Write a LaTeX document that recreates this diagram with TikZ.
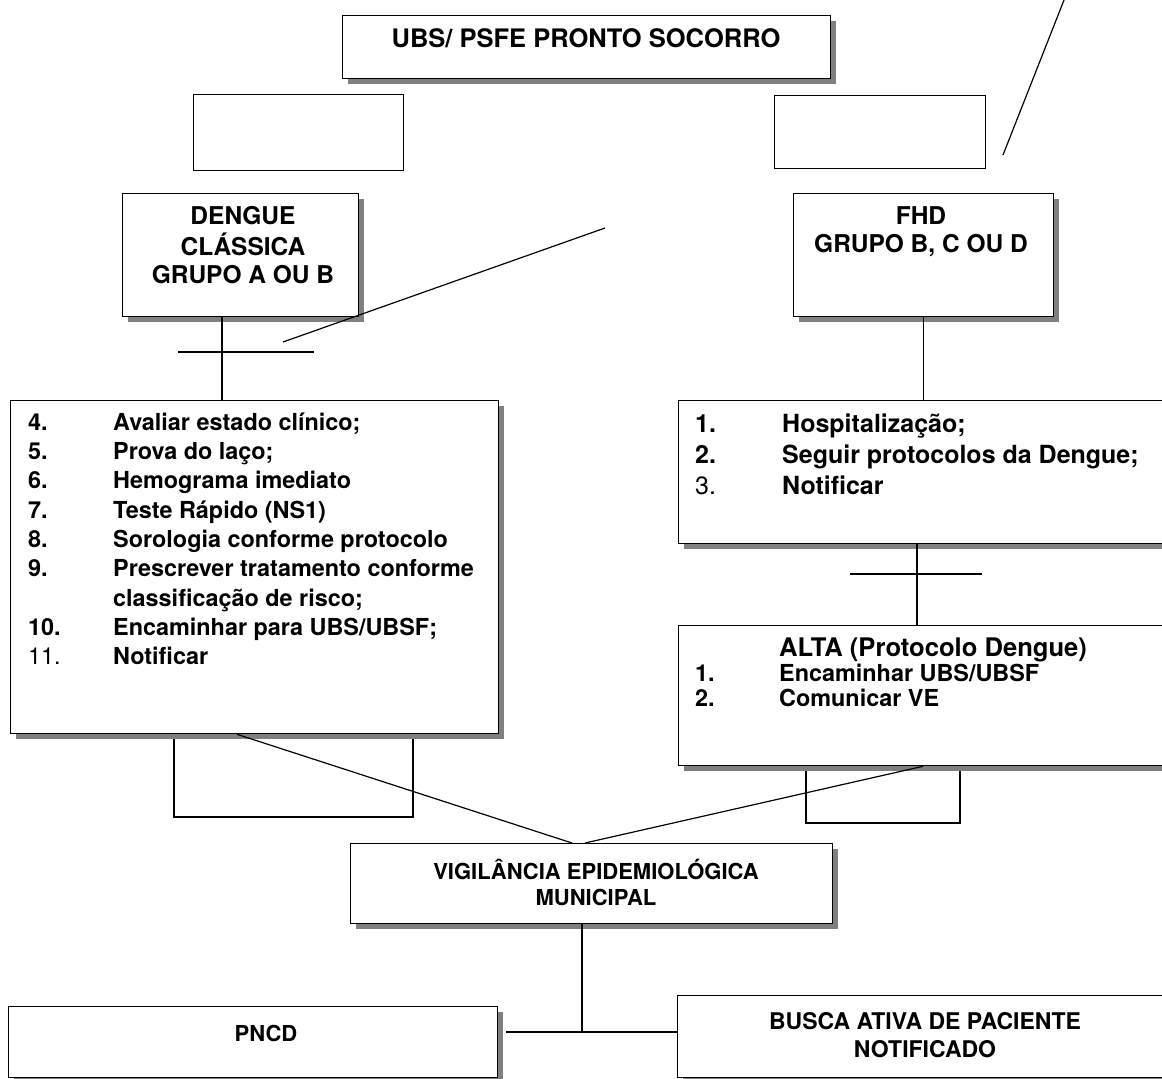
\documentclass[tikz,border=0pt]{standalone}
\usepackage{fontspec}
\setmainfont{TeX Gyre Heros}
\usetikzlibrary{shadows}

\newcommand{\fsz}[2]{\fontsize{#1}{#2}\selectfont}

\begin{document}
\begin{tikzpicture}[x=1pt,y=-1pt]

\tikzset{box/.style = {shape=rectangle,draw,line width=1.3pt,fill=white,inner sep=0pt,anchor=north west}}
\tikzset{sbox/.style = {box,drop shadow={shadow xshift=5.5pt,shadow yshift=-5.5pt,fill=black!50,opacity=1}}}
\tikzset{txt/.style = {inner sep=0pt,anchor=north,align=center}}
\tikzset{edge/.style = {line width=1.2pt}}
\tikzset{tick/.style = {line width=2.2pt}}

\useasboundingbox (0,0) rectangle (1162,1079);

% open boxes behind the lists
\draw[edge] (174,700) rectangle (413,817);
\draw[edge] (806,740) rectangle (960,823);

\node[sbox,minimum width=488pt,minimum height=63pt] (ubs) at (342,15) {};
\node[box,minimum width=210pt,minimum height=76pt] (vaziol) at (193,94) {};
\node[box,minimum width=211pt,minimum height=73pt] (vazior) at (774,95) {};
\node[sbox,minimum width=236pt,minimum height=123pt] (dengue) at (122,193) {};
\node[sbox,minimum width=260pt,minimum height=123pt] (fhd) at (793,193) {};
\node[sbox,minimum width=488pt,minimum height=333pt] (lista) at (10,400) {};
\node[sbox,minimum width=500pt,minimum height=143pt] (hosp) at (678,400) {};
\node[sbox,minimum width=500pt,minimum height=140pt] (alta) at (678,625) {};
\node[sbox,minimum width=482pt,minimum height=80pt] (vig) at (350,843) {};
\node[sbox,minimum width=489pt,minimum height=71pt] (pncd) at (8,1006) {};
\node[sbox,minimum width=500pt,minimum height=82pt] (busca) at (677,995) {};

%texts
\node[txt,anchor=base,font=\bfseries\fsz{25.5}{30}] (ubstxt) at (586,47) {UBS/ PSFE PRONTO SOCORRO};
\node[txt,font=\bfseries\fsz{24.5}{28.5}] (denguetxt) at (243,204) {\begin{tabular}{@{}c@{}}DENGUE\\CLÁSSICA\\GRUPO A OU B\end{tabular}};
\node[txt,font=\bfseries\fsz{24.5}{28.5}] (fhdtxt) at (921,204) {\begin{tabular}{@{}c@{}}FHD\\GRUPO B, C OU D\end{tabular}};
\node[txt,anchor=north west,font=\bfseries\fsz{23.4}{29.3}] (listatxt) at (28,409.5) {\begin{tabular}{@{}p{85pt}@{}l@{}}
4. & Avaliar estado clínico;\\
5. & Prova do laço;\\
6. & Hemograma imediato\\
7. & Teste Rápido (NS1)\\
8. & Sorologia conforme protocolo\\
9. & Prescrever tratamento conforme\\
   & classificação de risco;\\
10. & Encaminhar para UBS/UBSF;\\
{\mdseries 11.} & Notificar
\end{tabular}};
\node[txt,anchor=north west,font=\bfseries\fsz{25}{31}] (hosptxt) at (695,410.3) {\begin{tabular}{@{}p{87pt}@{}l@{}}
1. & Hospitalização;\\
2. & Seguir protocolos da Dengue;\\
{\mdseries 3.} & Notificar
\end{tabular}};
\node[txt,anchor=base west,font=\bfseries\fsz{25.6}{30}] (altatit) at (779,656) {ALTA (Protocolo Dengue)};
\node[txt,anchor=north west,font=\bfseries\fsz{23.4}{25.5}] (altatxt) at (695,663) {\begin{tabular}{@{}p{84pt}@{}l@{}}
1. & Encaminhar UBS/UBSF\\
2. & Comunicar VE
\end{tabular}};
\node[txt,font=\bfseries\fsz{22}{26}] (vigtxt) at (596,859) {\begin{tabular}{@{}c@{}}VIGILÂNCIA EPIDEMIOLÓGICA\\MUNICIPAL\end{tabular}};
\node[txt,anchor=base,font=\bfseries\fsz{22}{26}] (pncdtxt) at (266,1041) {PNCD};
\node[txt,font=\bfseries\fsz{23}{28}] (buscatxt) at (925,1010) {\begin{tabular}{@{}c@{}}BUSCA ATIVA DE PACIENTE\\NOTIFICADO\end{tabular}};

%edges
\coordinate (dj) at (222,352);
\coordinate (hj) at (917,574);
\coordinate (la) at (237,733);
\coordinate (ra) at (923,765);
\coordinate (vl) at (572,843);
\coordinate (vr) at (585,843);
\coordinate (vb) at (582,1032);
\draw[edge] (dengue.south -| dj) -- (lista.north -| dj);
\draw[edge] (fhd.south) -- (fhd.south |- hosp.north);
\draw[edge] (hosp.south -| hj) -- (alta.north -| hj);
\draw[edge] (lista.south -| la) -- (vig.north -| vl);
\draw[edge] (alta.south -| ra) -- (vig.north -| vr);
\draw[edge] (vig.south -| vb) -- (vb);
\draw[edge] ([xshift=8pt]pncd.east |- vb) -- (busca.west |- vb);
%ticks and loose strokes
\draw[tick] (178,352) -- (314,352);
\draw[tick] (850,574) -- (982,574);
\draw[edge] (283,342) -- (605,228);
\draw[edge] (1003,155) -- (1066,-5);

\end{tikzpicture}
\end{document}
